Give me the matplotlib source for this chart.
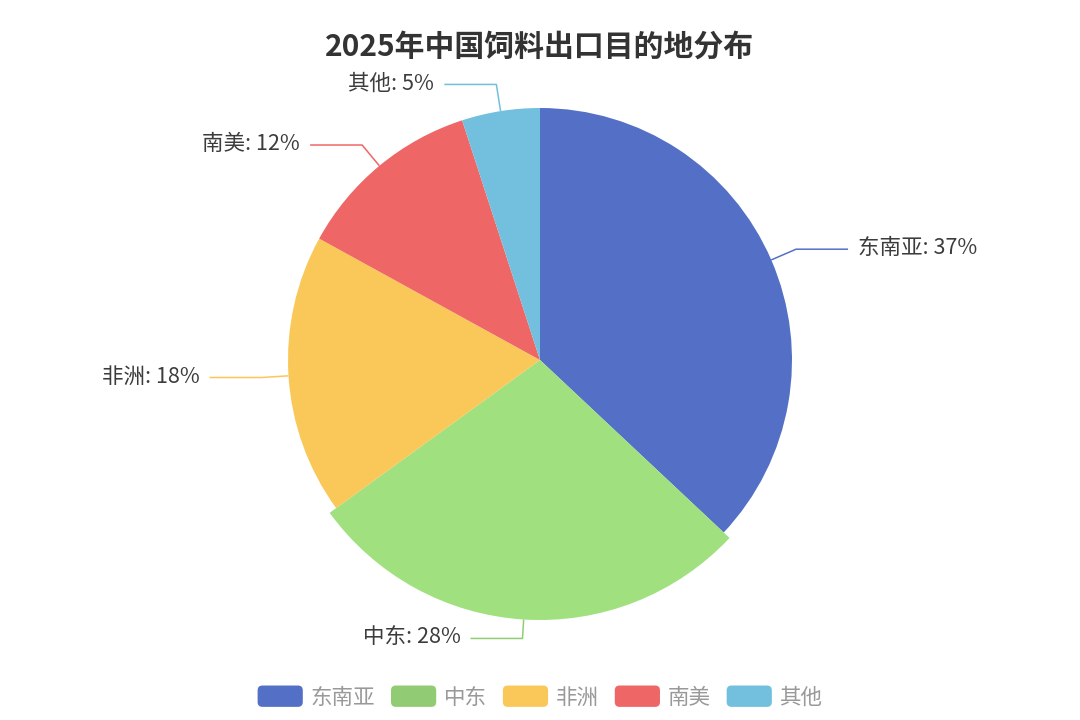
import matplotlib
matplotlib.use('Agg')
import matplotlib.pyplot as plt
import numpy as np
from matplotlib.patches import Patch, FancyBboxPatch
from matplotlib.legend_handler import HandlerPatch

plt.rcParams['font.family'] = ['Noto Sans CJK SC', 'DejaVu Sans']

# data
title = '2025年中国饲料出口目的地分布'
regions = ['东南亚', '中东', '非洲', '南美', '其他']
shares = [37, 28, 18, 12, 5]
colors = ['#5470c6', '#91cc75', '#fac858', '#ee6666', '#73c0de']

# the 中东 slice is drawn in its hovered (emphasis) state
highlight = 1
highlight_color = '#a0e07f'


class RoundHandler(HandlerPatch):
    # rounded legend swatches
    def create_artists(self, legend, orig_handle, xdescent, ydescent,
                       width, height, fontsize, trans):
        p = FancyBboxPatch((-xdescent, -ydescent), width, height,
                           boxstyle='round,pad=0,rounding_size=3.5',
                           facecolor=orig_handle.get_facecolor(),
                           edgecolor='none', transform=trans)
        return [p]


fig = plt.figure(figsize=(10.8, 7.2), dpi=100)
ax = fig.add_axes([0, 0, 1, 1])

cx, cy = 540, 360
radius = 252
slice_colors = list(colors)
slice_colors[highlight] = highlight_color

wedges, _ = ax.pie(shares, colors=slice_colors, startangle=90, counterclock=False,
                   radius=radius, center=(cx, cy), wedgeprops=dict(linewidth=0))
wedges[highlight].set_radius(260)

# outer labels with leader lines
elbow_r = radius + 27
len2 = 52
for w, name, val, c in zip(wedges, regions, shares, colors):
    mid = np.deg2rad((w.theta1 + w.theta2) / 2)
    x0, y0 = cx + w.r * np.cos(mid), cy + w.r * np.sin(mid)
    x1, y1 = cx + elbow_r * np.cos(mid), cy + elbow_r * np.sin(mid)
    side = 1 if np.cos(mid) >= 0 else -1
    x2 = x1 + side * len2
    ax.plot([x0, x1, x2], [y0, y1, y1], color=c, lw=1.1, solid_capstyle='butt')
    ax.text(x2 + side * 10, y1 + 1, f'{name}: {val}%', ha='left' if side > 0 else 'right',
            va='center', fontsize=15.5, color='#3c3c3c')

ax.text(540, 673, title, ha='center', va='center', fontsize=21.5,
        fontweight='bold', color='#333333')

ax.set_xlim(0, 1080)
ax.set_ylim(0, 720)
ax.set_aspect('equal')
ax.axis('off')

handles = [Patch(facecolor=c) for c in colors]
fig.legend(handles, regions, loc='center', bbox_to_anchor=(0.5, 1 - 697 / 720),
           ncol=5, frameon=False, fontsize=15.5, labelcolor='#999999',
           handler_map={Patch: RoundHandler()}, handlelength=2.1, handleheight=1.15,
           handletextpad=0.35, columnspacing=0.75, borderpad=0)

fig.savefig('out.png', dpi=100)
